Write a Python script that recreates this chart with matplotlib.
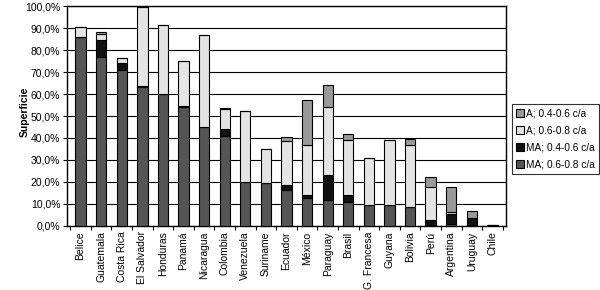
import numpy as np
import matplotlib
matplotlib.use('Agg')
import matplotlib.pyplot as plt
from matplotlib.ticker import FuncFormatter

plt.rcParams['font.family'] = ['Liberation Sans', 'DejaVu Sans']

# Countries and stacked shares (% of area)
paises = ['Belice', 'Guatemala', 'Costa Rica', 'El Salvador', 'Honduras', 'Panamá',
          'Nicaragua', 'Colombia', 'Venezuela', 'Suriname', 'Ecuador', 'México',
          'Paraguay', 'Brasil', 'G. Francesa', 'Guyana', 'Bolivia', 'Perú',
          'Argentina', 'Uruguay', 'Chile']
ma_06_08 = [86.0, 77.0, 71.0, 63.0, 60.0, 54.0, 45.0, 41.0, 20.0, 19.5, 16.5, 12.7,
            12.0, 11.0, 9.5, 9.5, 8.8, 0.5, 1.0, 0.5, 0.0]
ma_04_06 = [0.0, 7.5, 3.0, 0.5, 0.0, 0.5, 0.0, 3.0, 0.0, 0.0, 2.0, 1.5,
            11.0, 3.0, 0.0, 0.0, 0.0, 2.2, 4.5, 3.0, 0.3]
a_06_08 = [4.5, 3.0, 2.5, 36.0, 31.5, 20.5, 42.0, 9.0, 32.5, 15.5, 20.0, 22.5,
           31.0, 25.0, 21.5, 29.8, 28.0, 15.2, 1.0, 0.0, 0.3]
a_04_06 = [0.0, 0.5, 0.0, 0.0, 0.0, 0.0, 0.0, 0.5, 0.0, 0.0, 2.0, 20.5,
           10.0, 3.0, 0.0, 0.0, 2.7, 4.5, 11.0, 3.3, 0.0]

series = [
    ('MA; 0.6-0.8 c/a', ma_06_08, '#555555'),
    ('MA; 0.4-0.6 c/a', ma_04_06, '#111111'),
    ('A; 0.6-0.8 c/a', a_06_08, '#e4e4e4'),
    ('A; 0.4-0.6 c/a', a_04_06, '#9a9a9a'),
]

fig = plt.figure(figsize=(6, 2.9), dpi=100)
ax = fig.add_axes([0.112, 0.221, 0.731, 0.758])

x = np.arange(len(paises))
bottom = np.zeros(len(paises))
handles = []
for name, vals, col in series:
    vals = np.array(vals)
    b = ax.bar(x, vals, 0.5, bottom=bottom, color=col, edgecolor='black',
               linewidth=0.8, label=name, zorder=3)
    handles.append(b)
    bottom += vals

ax.set_xlim(-0.65, len(paises) - 0.35)
ax.set_ylim(0, 100)
ax.set_yticks(np.arange(0, 101, 10))
ax.yaxis.set_major_formatter(FuncFormatter(lambda v, p: f'{v:.1f}%'.replace('.', ',')))
ax.yaxis.grid(True, color='black', linewidth=0.8, zorder=0)
ax.set_xticks(x)
ax.set_xticklabels(paises, rotation=90, fontsize=7.5)
ax.set_xticks(np.arange(-0.5, len(paises), 1), minor=True)
ax.tick_params(axis='x', which='major', length=0, pad=4)
ax.tick_params(axis='x', which='minor', length=3, width=0.8, direction='out')
ax.tick_params(axis='y', labelsize=7.5, length=3, width=0.8, direction='out', pad=2)
for s in ax.spines.values():
    s.set_linewidth(1.0)
ax.set_ylabel('Superficie', fontsize=7.5, fontweight='bold')
ax.yaxis.set_label_coords(-0.085, 0.52)

leg = fig.legend(handles[::-1], [h.get_label() for h in handles[::-1]],
                 loc='center left', bbox_to_anchor=(0.853, 0.52), fontsize=7.3,
                 frameon=True, fancybox=False, edgecolor='black',
                 handlelength=0.8, handleheight=0.8, handletextpad=0.2,
                 labelspacing=0.7, borderpad=0.4, borderaxespad=0)
leg.get_frame().set_linewidth(0.8)

fig.savefig('out.png', dpi=100)
